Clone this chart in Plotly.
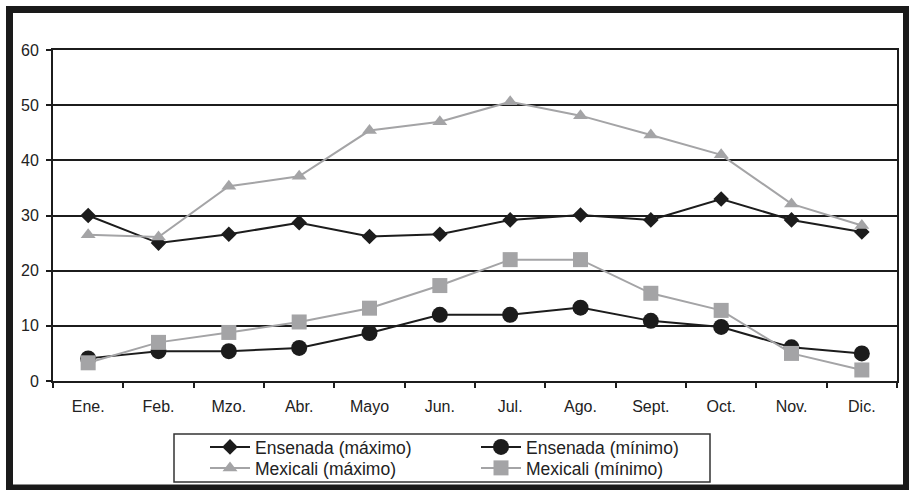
import plotly.graph_objects as go

# Month labels along the category axis
meses = ["Ene.", "Feb.", "Mzo.", "Abr.", "Mayo", "Jun.", "Jul.", "Ago.",
         "Sept.", "Oct.", "Nov.", "Dic."]

# Monthly temperatures (°C)
ensenada_max = [30.0, 25.0, 26.6, 28.7, 26.2, 26.6, 29.2, 30.1, 29.2, 33.0, 29.2, 27.0]
ensenada_min = [4.1, 5.4, 5.4, 6.0, 8.7, 12.0, 12.0, 13.3, 10.9, 9.8, 6.1, 5.0]
mexicali_max = [26.5, 26.1, 35.3, 37.1, 45.4, 47.0, 50.6, 48.1, 44.6, 41.0, 32.1, 28.2]
mexicali_min = [3.3, 7.0, 8.8, 10.7, 13.2, 17.3, 22.0, 22.0, 15.9, 12.8, 5.0, 2.0]

BLACK = "#1c1c1c"
GRAY = "#a4a4a6"

W, H = 909, 490
L, R, T, B = 53, 12, 50, 109
PW, PH = W - L - R, H - T - B


def px_x(px):
    return (px - L) / PW


def px_y(py):
    return (H - B - py) / PH


fig = go.Figure()
fig.add_trace(go.Scatter(
    x=meses, y=ensenada_max, name="Ensenada (máximo)", mode="lines+markers",
    line=dict(color=BLACK, width=2), legend="legend",
    marker=dict(symbol="diamond", size=12, color=BLACK)))
fig.add_trace(go.Scatter(
    x=meses, y=ensenada_min, name="Ensenada (mínimo)", mode="lines+markers",
    line=dict(color=BLACK, width=2), legend="legend2",
    marker=dict(symbol="circle", size=16, color=BLACK)))
fig.add_trace(go.Scatter(
    x=meses, y=mexicali_max, name="Mexicali (máximo)", mode="lines+markers",
    line=dict(color=GRAY, width=2), legend="legend3",
    marker=dict(symbol="triangle-up", size=13, color=GRAY)))
fig.add_trace(go.Scatter(
    x=meses, y=mexicali_min, name="Mexicali (mínimo)", mode="lines+markers",
    line=dict(color=GRAY, width=2), legend="legend4",
    marker=dict(symbol="square", size=15, color=GRAY)))

# Thick outer frame around the whole figure
fig.add_shape(type="rect", xref="paper", yref="paper",
              x0=px_x(9.5), x1=px_x(906.5), y0=px_y(488), y1=px_y(9.5),
              line=dict(color="#1a1a1a", width=7), layer="above")
# Box around the legend block
fig.add_shape(type="rect", xref="paper", yref="paper",
              x0=px_x(174), x1=px_x(710), y0=px_y(482), y1=px_y(434),
              line=dict(color="#333", width=1.5), layer="above")

font = "Liberation Sans, Arial, sans-serif"
legend_font = dict(family=font, size=17.5, color="#222")


def legend_at(px, py):
    # one legend entry, placed in a 2x2 grid inside the legend box
    return dict(x=px_x(px), y=px_y(py), xanchor="left", yanchor="middle",
                borderwidth=0, bgcolor="rgba(0,0,0,0)", font=legend_font,
                itemwidth=40)


fig.update_layout(
    width=W, height=H,
    margin=dict(l=L, r=R, t=T, b=B, autoexpand=False),
    paper_bgcolor="white", plot_bgcolor="white",
    font=dict(family=font, size=16, color="#222"),
    showlegend=True,
    legend=legend_at(205, 447),
    legend2=legend_at(476, 447),
    legend3=legend_at(205, 468),
    legend4=legend_at(476, 468),
    xaxis=dict(
        type="category", range=[-0.5, 11.5],
        showline=True, linecolor=BLACK, linewidth=2, mirror=True,
        ticks="outside", tickson="boundaries", ticklen=5,
        tickcolor=BLACK, tickwidth=1.5,
        showgrid=False, tickfont=dict(size=16), ticklabelstandoff=10,
    ),
    yaxis=dict(
        range=[0, 60], dtick=10,
        showline=True, linecolor=BLACK, linewidth=2, mirror=True,
        ticks="outside", ticklen=5, tickcolor=BLACK, tickwidth=1.5,
        showgrid=True, gridcolor=BLACK, gridwidth=1.5,
        zeroline=False, tickfont=dict(size=16), ticklabelstandoff=4,
    ),
)

fig.write_html("out.html")
